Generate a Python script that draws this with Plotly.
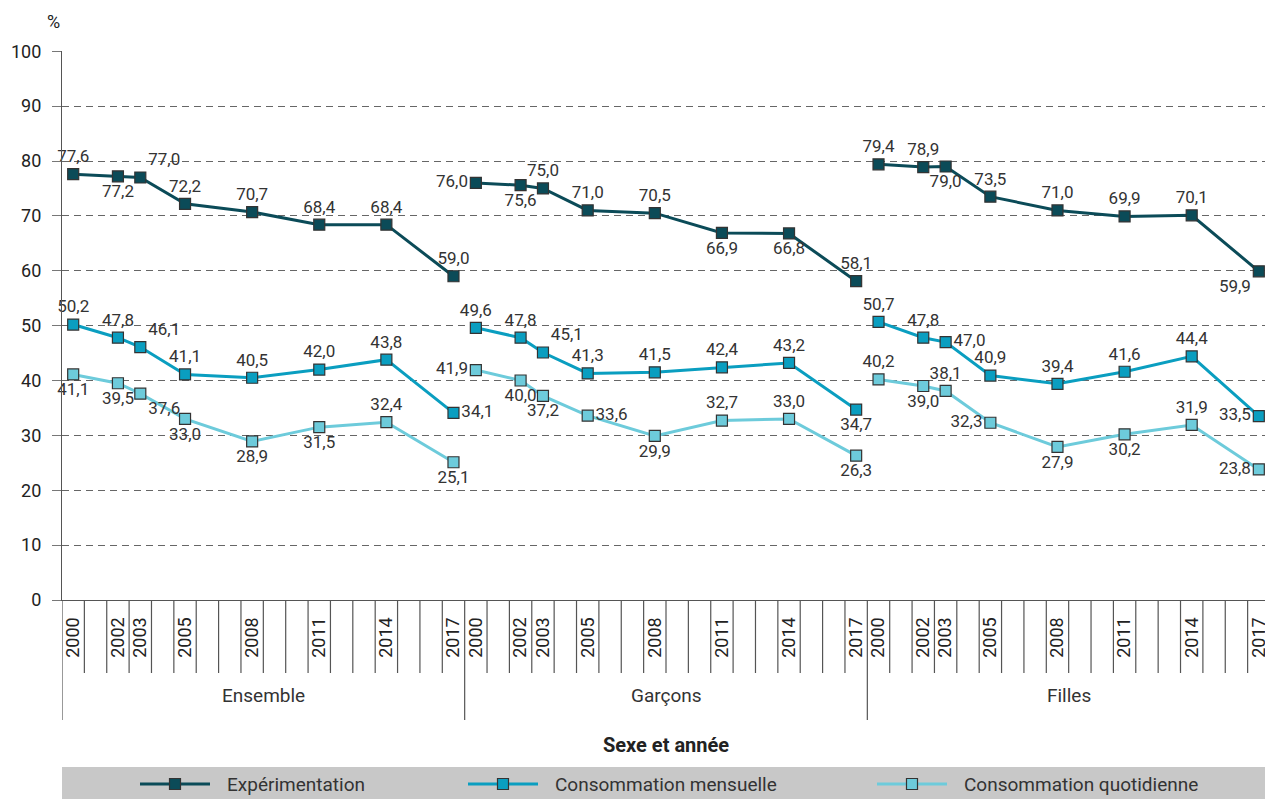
import plotly.graph_objects as go

# ---------------- data ----------------
years = [2000, 2002, 2003, 2005, 2008, 2011, 2014, 2017]
groups = ["Ensemble", "Garçons", "Filles"]
series_names = ["Expérimentation", "Consommation mensuelle", "Consommation quotidienne"]

exp_ensemble = [77.6, 77.2, 77.0, 72.2, 70.7, 68.4, 68.4, 59.0]
exp_garcons = [76.0, 75.6, 75.0, 71.0, 70.5, 66.9, 66.8, 58.1]
exp_filles = [79.4, 78.9, 79.0, 73.5, 71.0, 69.9, 70.1, 59.9]

men_ensemble = [50.2, 47.8, 46.1, 41.1, 40.5, 42.0, 43.8, 34.1]
men_garcons = [49.6, 47.8, 45.1, 41.3, 41.5, 42.4, 43.2, 34.7]
men_filles = [50.7, 47.8, 47.0, 40.9, 39.4, 41.6, 44.4, 33.5]

quo_ensemble = [41.1, 39.5, 37.6, 33.0, 28.9, 31.5, 32.4, 25.1]
quo_garcons = [41.9, 40.0, 37.2, 33.6, 29.9, 32.7, 33.0, 26.3]
quo_filles = [40.2, 39.0, 38.1, 32.3, 27.9, 30.2, 31.9, 23.8]

# label placement (style)
exp_pos = [
    ["top center", "bottom center", "top right", "top center", "top center", "top center", "top center", "top center"],
    ["middle left", "bottom center", "top center", "top center", "top center", "bottom center", "bottom center", "top center"],
    ["top center", "top center", "bottom center", "top center", "top center", "top center", "top center", "bottom left"],
]
men_pos = [
    ["top center", "top center", "top right", "top center", "top center", "top center", "top center", "middle right"],
    ["top center", "top center", "top right", "top center", "top center", "top center", "top center", "bottom center"],
    ["top center", "top center", "middle right", "top center", "top center", "top center", "top center", "middle left"],
]
quo_pos = [
    ["bottom center", "bottom center", "bottom right", "bottom center", "bottom center", "bottom center", "top center", "bottom center"],
    ["middle left", "bottom center", "bottom center", "middle right", "bottom center", "top center", "top center", "bottom center"],
    ["top center", "bottom center", "top center", "middle left", "bottom center", "bottom center", "top center", "middle left"],
]

colors = ["#0b4b58", "#0a9ec0", "#6dcbdb"]
FONT = "Roboto, Liberation Sans, sans-serif"
TXT = "#333333"

YEAR0, NSLOT = 2000, 18  # one slot per calendar year in each group


def slot(g, y):
    return g * NSLOT + (y - YEAR0) + 0.5


def build(vals_by_group, pos_by_group):
    xs, ys, txt, pos = [], [], [], []
    for g, (vals, ps) in enumerate(zip(vals_by_group, pos_by_group)):
        if g > 0:
            xs.append(None); ys.append(None); txt.append(""); pos.append("top center")
        for yr, v, p in zip(years, vals, ps):
            xs.append(slot(g, yr)); ys.append(v)
            txt.append(f"{v:.1f}".replace(".", ",")); pos.append(p)
    return xs, ys, txt, pos


fig = go.Figure()
all_series = [
    ([exp_ensemble, exp_garcons, exp_filles], exp_pos),
    ([men_ensemble, men_garcons, men_filles], men_pos),
    ([quo_ensemble, quo_garcons, quo_filles], quo_pos),
]
for name, color, (vals, ps) in zip(series_names, colors, all_series):
    xs, ys, txt, pos = build(vals, ps)
    fig.add_trace(go.Scatter(
        x=xs, y=ys, name=name, mode="lines+markers+text",
        text=txt, textposition=pos, cliponaxis=False,
        textfont=dict(family=FONT, size=17, color=TXT),
        line=dict(color=color, width=3),
        marker=dict(symbol="square", size=11, color=color, line=dict(color="#333333", width=1.2)),
        connectgaps=False, showlegend=False,
    ))

tickvals = [slot(g, y) for g in range(len(groups)) for y in years]
ticktext = [str(y) for g in range(len(groups)) for y in years]
ntot = NSLOT * len(groups)

shapes = []
# slot separator ticks below the axis
for k in range(ntot + 1):
    is_group = (k % NSLOT == 0)
    shapes.append(dict(type="line", xref="x", yref="paper", ysizemode="pixel", yanchor=0,
                       x0=k, x1=k, y0=0, y1=-120 if is_group else -73,
                       line=dict(color="#555555", width=1.2), layer="above"))

annotations = []
for g, name in enumerate(groups):
    annotations.append(dict(x=g * NSLOT + NSLOT / 2, y=0, xref="x", yref="paper", yshift=-95,
                            text=name, showarrow=False, font=dict(family=FONT, size=19, color=TXT),
                            yanchor="middle"))
annotations.append(dict(x=0.5, y=0, xref="paper", yref="paper", yshift=-145, text="<b>Sexe et année</b>",
                        showarrow=False, font=dict(family=FONT, size=20, color="#222222"), yanchor="middle"))
annotations.append(dict(x=-0.014, y=1, xref="paper", yref="paper", yshift=30, text="%", showarrow=False,
                        font=dict(family=FONT, size=18, color="#222222"), yanchor="middle"))

# legend band and entries
shapes.append(dict(type="rect", xref="paper", yref="paper", ysizemode="pixel", yanchor=0,
                   x0=0, x1=1, y0=-167, y1=-205, fillcolor="#c8c8c8", line=dict(width=0), layer="below"))
leg_x = [140, 468, 877]  # pixel start of each legend symbol (window coordinates)
plot_l, plot_w = 62, 1208
for name, color, lx in zip(series_names, colors, leg_x):
    x0 = (lx - plot_l) / plot_w
    x1 = (lx + 70 - plot_l) / plot_w
    xm = (lx + 35 - plot_l) / plot_w
    shapes.append(dict(type="line", xref="paper", yref="paper", ysizemode="pixel", yanchor=0,
                       x0=x0, x1=x1, y0=-184, y1=-184, line=dict(color=color, width=3)))
    shapes.append(dict(type="rect", xref="paper", yref="paper", xsizemode="pixel", ysizemode="pixel",
                       xanchor=xm, yanchor=0, x0=-5.5, x1=5.5, y0=-189.5, y1=-178.5,
                       fillcolor=color, line=dict(color="#333333", width=1.2)))
    annotations.append(dict(x=(lx + 85 - plot_l) / plot_w, y=0, xref="paper", yref="paper", yshift=-184,
                            text=name, showarrow=False, xanchor="left", yanchor="middle",
                            font=dict(family=FONT, size=19, color=TXT)))

# page body has an 8px margin: size the figure so the plot lands where the reference has it
fig.update_layout(
    width=1265, height=791,
    margin=dict(l=54, r=3, t=43, b=199, pad=0, autoexpand=False),
    paper_bgcolor="white", plot_bgcolor="white",
    font=dict(family=FONT, color=TXT),
    shapes=shapes, annotations=annotations,
    xaxis=dict(range=[0, ntot], tickmode="array", tickvals=tickvals, ticktext=ticktext,
               tickangle=-90, ticks="", showgrid=False, zeroline=False, automargin=False,
               showline=True, linecolor="#555555", linewidth=1.2,
               tickfont=dict(family=FONT, size=18, color="#222222"), ticklabelstandoff=9),
    yaxis=dict(range=[0, 100.05], tickmode="array", tickvals=list(range(0, 101, 10)),
               showgrid=True, gridcolor="#666666", gridwidth=1, griddash="7px,5px",
               zeroline=False, showline=True, linecolor="#555555", linewidth=1.2, mirror=True,
               ticks="outside", ticklen=9, tickcolor="#777777", automargin=False,
               tickfont=dict(family=FONT, size=18, color="#222222"), ticklabelstandoff=7),
)

fig.write_html("out.html")
